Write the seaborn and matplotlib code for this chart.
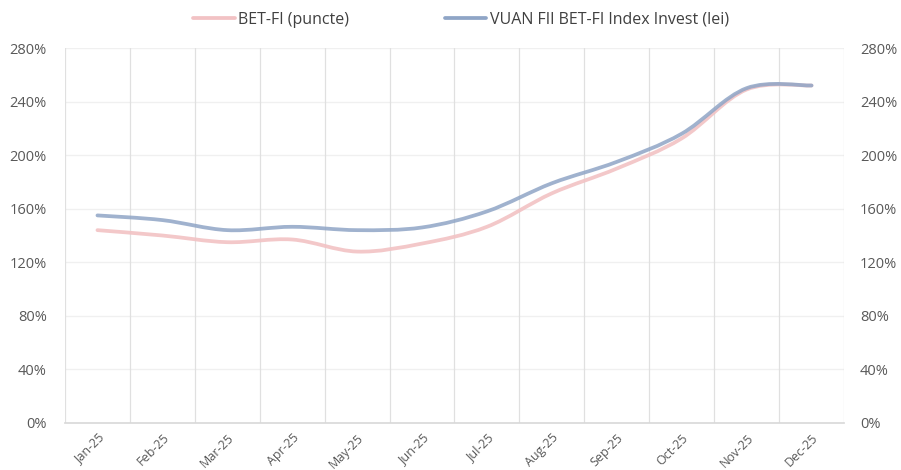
import numpy as np
import pandas as pd
import matplotlib
matplotlib.use("Agg")
import matplotlib.pyplot as plt
from matplotlib.path import Path
from matplotlib.patches import PathPatch
from matplotlib.lines import Line2D
import seaborn as sns

# date lunare (randament cumulat, %)
luni = ["Jan-25", "Feb-25", "Mar-25", "Apr-25", "May-25", "Jun-25",
        "Jul-25", "Aug-25", "Sep-25", "Oct-25", "Nov-25", "Dec-25"]
bet_fi = [144, 140, 135, 137, 128, 134, 146.5, 171.5, 190, 212.5, 249, 252]
vuan = [155, 151.5, 144, 146.5, 144, 146, 158, 179, 195, 216, 250, 252]

df = pd.DataFrame({"Luna": luni, "BET-FI (puncte)": bet_fi,
                   "VUAN FII BET-FI Index Invest (lei)": vuan})

culori = {"BET-FI (puncte)": "#F2C2C4",
          "VUAN FII BET-FI Index Invest (lei)": "#8FA5C6"}

sns.set_theme(style="white")
plt.rcParams["font.family"] = ["Open Sans", "DejaVu Sans"]

fig = plt.figure(figsize=(9.01, 4.70), dpi=100)
ax = fig.add_axes([65 / 901, 1 - 423 / 470, (844 - 65) / 901, (423 - 48) / 470])


def linie_netezita(ax, y, culoare, alpha):
    # linie netezita ca in Excel (bezier prin punctele lunare)
    x = np.arange(len(y), dtype=float)
    y = np.asarray(y, dtype=float)
    n = len(y)
    verts = [(x[0], y[0])]
    codes = [Path.MOVETO]
    for i in range(n - 1):
        p0 = (x[max(i - 1, 0)], y[max(i - 1, 0)])
        p1 = (x[i], y[i])
        p2 = (x[i + 1], y[i + 1])
        p3 = (x[min(i + 2, n - 1)], y[min(i + 2, n - 1)])
        c1 = (p1[0] + (p2[0] - p0[0]) / 6, p1[1] + (p2[1] - p0[1]) / 6)
        c2 = (p2[0] - (p3[0] - p1[0]) / 6, p2[1] - (p3[1] - p1[1]) / 6)
        verts += [c1, c2, p2]
        codes += [Path.CURVE4] * 3
    patch = PathPatch(Path(verts, codes), facecolor="none", edgecolor=culoare,
                      lw=2.7, alpha=alpha, capstyle="round", zorder=3)
    ax.add_patch(patch)


linie_netezita(ax, df["BET-FI (puncte)"], culori["BET-FI (puncte)"], 0.9)
linie_netezita(ax, df["VUAN FII BET-FI Index Invest (lei)"],
               culori["VUAN FII BET-FI Index Invest (lei)"], 0.85)

ax.set_xlim(-0.5, len(luni) - 0.5)
ax.set_ylim(0, 280)
yt = np.arange(0, 281, 40)
ax.set_yticks(yt)
ax.set_yticklabels([f"{v}%" for v in yt])
ax.set_xticks(np.arange(len(luni)))
ax.set_xticklabels(luni, rotation=45, ha="right", rotation_mode="anchor")

# grid: orizontal la 40%, vertical intre luni
for v in yt[1:]:
    ax.axhline(v, color="#F0F0F0", lw=1, zorder=1)
for b in np.arange(-0.5, len(luni), 1):
    ax.axvline(b, color="#E0E0E0", lw=0.9, zorder=1)

for s in ["top", "right", "left"]:
    ax.spines[s].set_visible(False)
ax.spines["bottom"].set_color("#D9D9D9")
ax.tick_params(axis="x", length=0, pad=6, labelsize=9, colors="#595959")
ax.tick_params(axis="y", length=0, pad=13, labelsize=10.5, colors="#595959")

ax2 = ax.twinx()
ax2.set_ylim(0, 280)
ax2.set_yticks(yt)
ax2.set_yticklabels([f"{v}%" for v in yt])
ax2.tick_params(axis="y", length=0, pad=11.5, labelsize=10.5, colors="#595959")
for s in ax2.spines.values():
    s.set_visible(False)

handles = [Line2D([], [], color=culori[k], lw=2.7) for k in culori]
fig.legend(handles, list(culori.keys()), loc="center", bbox_to_anchor=(461 / 901, 1 - 20 / 470),
           ncol=2, frameon=False, fontsize=11.5, handlelength=2.6, handletextpad=0.2,
           columnspacing=6.0, labelcolor="#404040")

fig.savefig("out.png", dpi=100)
